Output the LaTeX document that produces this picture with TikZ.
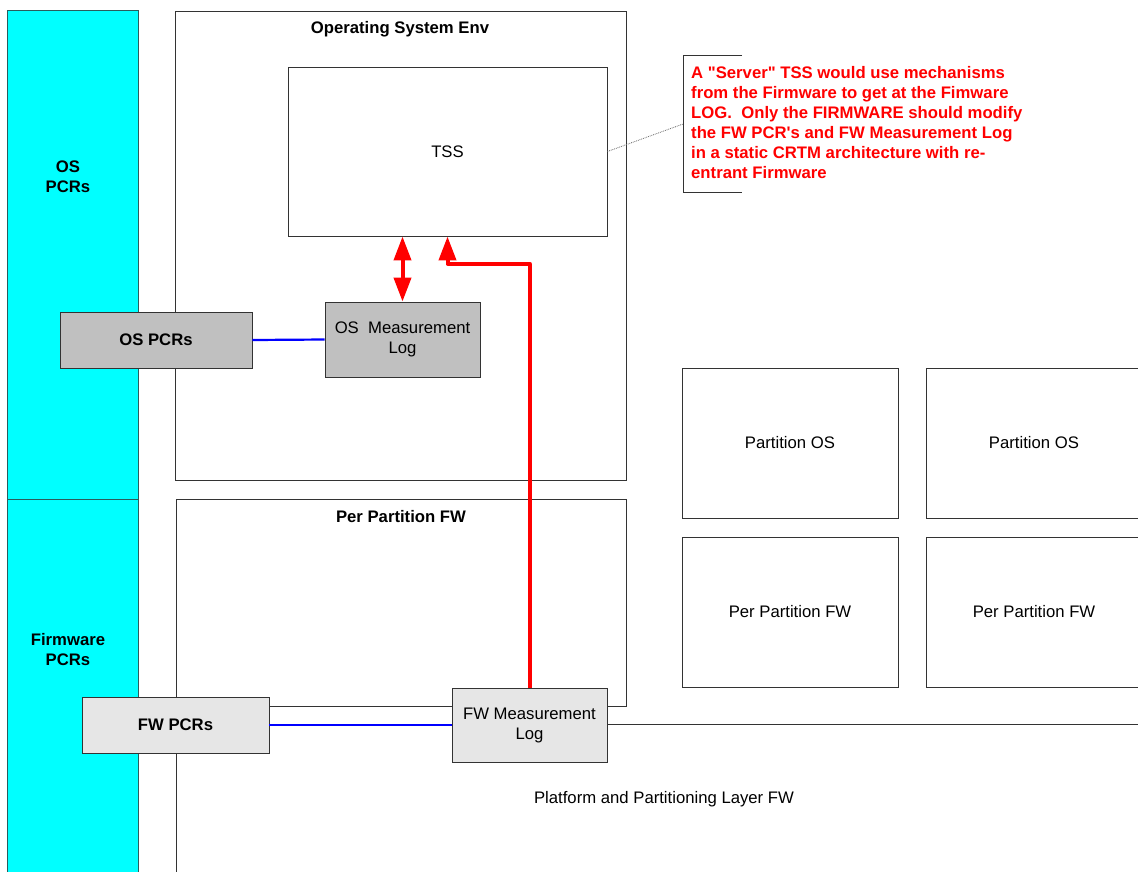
\documentclass[tikz,border=0pt]{standalone}
\usepackage{fontspec}
\setmainfont{Liberation Sans}[Ligatures=TeXOff]
\usetikzlibrary{arrows.meta}
\definecolor{cyanfill}{HTML}{00FFFF}
\definecolor{osgray}{HTML}{C0C0C0}
\definecolor{fwgray}{HTML}{E6E6E6}
\definecolor{edge}{HTML}{333333}
\definecolor{redtxt}{HTML}{FF0000}
\definecolor{bluelink}{HTML}{0000FF}
\tikzset{redhead/.tip={Triangle[length=24pt,width=17pt]}}
\begin{document}
\begin{tikzpicture}[x=1pt,y=-1pt,
  every node/.style={font=\fontsize{16.7}{20}\selectfont},
  plainbox/.style={draw=edge, line width=0.9pt, fill=white, inner sep=0pt, align=center},
  osbox/.style={plainbox, fill=osgray},
  fwbox/.style={plainbox, fill=fwgray},
  boldtxt/.style={font=\fontsize{16.7}{20}\selectfont\bfseries, align=center},
  bluewire/.style={draw=bluelink, line width=2.2pt},
  redwire/.style={draw=redtxt, line width=4pt},
]
\useasboundingbox (0,0) rectangle (1138,871);
\clip (0,0) rectangle (1138,871);
\fill[white] (0,0) rectangle (1138,871);

% cyan PCR column
\filldraw[fill=cyanfill, draw=edge!80!cyan, line width=0.9pt] (7,10) rectangle (138,499);
\filldraw[fill=cyanfill, draw=edge!80!cyan, line width=0.9pt] (7,499) rectangle (138,890);
\node[boldtxt] (oscol) at (68,177) {OS\\PCRs};
\node[boldtxt] (fwcol) at (68,650) {Firmware\\PCRs};

% platform layer
\draw[draw=edge, line width=0.9pt] (1150,724) -- (176,724) -- (176,890);
\node (platform) at (664,799) {Platform and Partitioning Layer FW};

% Operating system env
\node[plainbox, minimum width=451pt, minimum height=469pt] (osenv) at (400.5,245.5) {};
\node[boldtxt] (osenvt) at (400,29) {Operating System Env};
\node[plainbox, minimum width=319pt, minimum height=169pt] (tss) at (447.5,151.5) {TSS};
\node[osbox, minimum width=155pt, minimum height=75pt] (oslog) at (402.5,339.5) {OS\ \ Measurement\\Log};

% per partition FW
\node[plainbox, minimum width=450pt, minimum height=207pt] (ppfw) at (401,602.5) {};
\node[boldtxt] (ppfwt) at (401,517) {Per Partition FW};

% right side partitions
\node[plainbox, minimum width=216pt, minimum height=150pt] (pos1) at (790,443) {Partition OS};
\node[plainbox, minimum width=216pt, minimum height=150pt] (pos2) at (1034,443) {Partition OS};
\node[plainbox, minimum width=216pt, minimum height=150pt] (pfw1) at (790,612) {Per Partition FW};
\node[plainbox, minimum width=216pt, minimum height=150pt] (pfw2) at (1034,612) {Per Partition FW};

% PCR boxes
\node[osbox, minimum width=192pt, minimum height=56pt, font=\fontsize{16.7}{20}\selectfont\bfseries] (ospcr) at (156,340) {OS PCRs};
\node[fwbox, minimum width=187pt, minimum height=56pt, font=\fontsize{16.7}{20}\selectfont\bfseries] (fwpcr) at (175.5,725) {FW PCRs};
\node[fwbox, minimum width=155pt, minimum height=74pt] (fwlog) at (529.5,725) {FW Measurement\\Log};

% blue links
\draw[bluewire] (ospcr.east) -- (oslog.west);
\draw[bluewire] (fwpcr.east) -- (fwlog.west);

% red arrows
\draw[redwire, redhead-redhead] (oslog.north |- tss.south) -- (oslog.north);
\draw[redwire, -redhead, line join=round] (fwlog.north) -- ++(0,-424) -| (tss.south);

% annotation
\coordinate (brtop) at (742,55);
\coordinate (brmid) at (683,124);
\coordinate (brbot) at (742,192);
\draw[draw=edge, line width=0.9pt] (brtop) -- (683,55) -- (683,192) -- (brbot);
\draw[draw=gray!80!black, densely dotted, line width=0.8pt] (tss.east) -- (brmid);
\node[anchor=north west, inner sep=0pt, align=left, text=redtxt,
      font=\fontsize{16.7}{20}\selectfont\bfseries] (note) at (691,66)
 {A "Server" TSS would use mechanisms\\
  from the Firmware to get at the Fimware\\
  LOG.\ \ Only the FIRMWARE should modify\\
  the FW PCR's and FW Measurement Log\\
  in a static CRTM architecture with re-\\
  entrant Firmware};
\end{tikzpicture}
\end{document}
